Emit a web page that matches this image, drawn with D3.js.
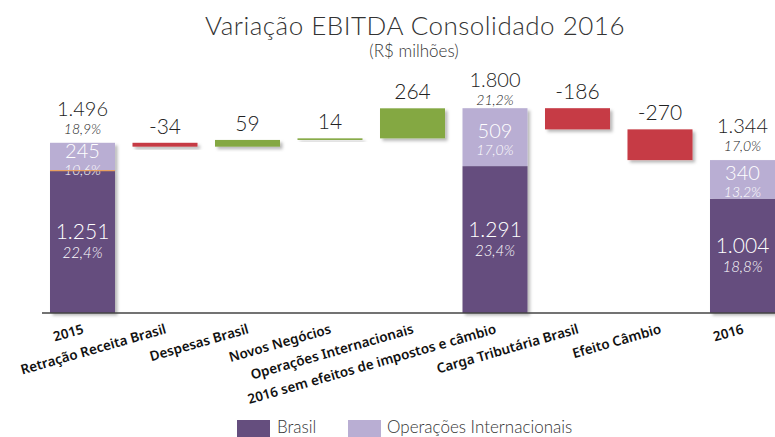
<!DOCTYPE html>
<html>
<head>
<meta charset="utf-8">
<script src="https://cdn.jsdelivr.net/npm/d3@7"></script>
<style>
  html, body { margin: 0; padding: 0; background: #fff; }
  svg { display: block; }
</style>
</head>
<body>
<svg id="chart" width="775" height="437"></svg>
<script>
// ---- Data ----
const categories = ["2015", "Retração Receita Brasil", "Despesas Brasil", "Novos Negócios",
  "Operações Internacionais", "2016 sem efeitos de impostos e câmbio",
  "Carga Tributária Brasil", "Efeito Câmbio", "2016"];
const brasil     = [1251, null, null, null, null, 1291, null, null, 1004];
const intl       = [245,  null, null, null, null, 509,  null, null, 340];
const brasilPct  = [22.4, null, null, null, null, 23.4, null, null, 18.8];
const intlPct    = [10.6, null, null, null, null, 17.0, null, null, 13.2];
const totalPct   = [18.9, null, null, null, null, 21.2, null, null, 17.0];
const deltas     = [null, -34, 59, 14, 264, null, -186, -270, null];
const seriesNames = ["Brasil", "Operações Internacionais"];

// ---- Style ----
const colBrasil = "#654e7e", colIntl = "#b9aed3", colUp = "#84a843", colDown = "#c63a44";
const numFont = "Lato, 'Open Sans', sans-serif";
const catFont = "'Noto Sans', 'Open Sans', sans-serif";

const loc = d3.formatLocale({decimal: ",", thousands: ".", grouping: [3], currency: ["R$", ""], minus: "-"});
const fInt = loc.format(",d");
const fPct = v => loc.format(".1f")(v) + "%";

const svg = d3.select("#chart");
const baseY = 313;
const x = d3.scaleBand().domain(categories).range([41.25, 783.75]).paddingInner(0.212).paddingOuter(0.106);
const y = d3.scaleLinear().domain([0, 1800]).range([baseY, 108.2]);

const defs = svg.append("defs");
const filt = defs.append("filter").attr("id", "sh").attr("x", "-10%").attr("y", "-30%").attr("width", "130%").attr("height", "200%");
filt.append("feDropShadow").attr("dx", 2.5).attr("dy", 2.5).attr("stdDeviation", 1.5)
  .attr("flood-color", "#000").attr("flood-opacity", 0.28);

// Title
svg.append("text").attr("x", 415).attr("y", 35).attr("text-anchor", "middle")
  .style("font-family", numFont).style("font-weight", 300).style("font-size", "26px")
  .style("fill", "#333").style("letter-spacing", "0.5px").text("Variação EBITDA Consolidado 2016");
svg.append("text").attr("x", 414).attr("y", 57).attr("text-anchor", "middle")
  .style("font-family", numFont).style("font-weight", 300).style("font-size", "17px")
  .style("fill", "#333").text("(R$ milhões)");

// Build waterfall
let running = 0;
const items = categories.map((c, i) => {
  if (brasil[i] != null) {
    running = brasil[i] + intl[i];
    return {c, i, type: "total", b: brasil[i], n: intl[i]};
  } else {
    const start = running;
    running = start + deltas[i];
    return {c, i, type: "delta", start, end: running, d: deltas[i]};
  }
});

const g = svg.append("g");
const bw = x.bandwidth();

items.forEach(it => {
  const x0 = x(it.c), cx = x0 + bw / 2;
  if (it.type === "total") {
    const tot = it.b + it.n;
    const yB = y(it.b), yT = y(tot);
    const grp = g.append("g").attr("filter", "url(#sh)");
    grp.append("rect").attr("x", x0).attr("y", yB).attr("width", bw).attr("height", baseY - yB).attr("fill", colBrasil);
    grp.append("rect").attr("x", x0).attr("y", yT).attr("width", bw).attr("height", yB - yT).attr("fill", colIntl);
    // totals
    const totY = Math.max(yT - 27, 87), pctY = Math.max(yT - 9, 105);
    g.append("text").attr("x", cx).attr("y", totY).attr("text-anchor", "middle")
      .style("font-family", numFont).style("font-weight", 300).style("font-size", "20px").style("fill", "#222").text(fInt(tot));
    g.append("text").attr("x", cx).attr("y", pctY).attr("text-anchor", "middle")
      .style("font-family", numFont).style("font-weight", 300).style("font-style", "italic").style("font-size", "14px").style("fill", "#222").text(fPct(totalPct[it.i]));
    // intl labels
    const cI = (yT + yB) / 2;
    g.append("text").attr("x", cx).attr("y", cI + 1).attr("text-anchor", "middle")
      .style("font-family", numFont).style("font-weight", 300).style("font-size", "20px").style("fill", "#fff").text(fInt(it.n));
    g.append("text").attr("x", cx).attr("y", cI + 18).attr("text-anchor", "middle")
      .style("font-family", numFont).style("font-weight", 300).style("font-style", "italic").style("font-size", "14px").style("fill", "#fff").text(fPct(intlPct[it.i]));
    // brasil labels
    const cB = (yB + baseY) / 2;
    g.append("text").attr("x", cx).attr("y", cB - 3).attr("text-anchor", "middle")
      .style("font-family", numFont).style("font-weight", 300).style("font-size", "21px").style("fill", "#fff").text(fInt(it.b));
    g.append("text").attr("x", cx).attr("y", cB + 16).attr("text-anchor", "middle")
      .style("font-family", numFont).style("font-weight", 300).style("font-style", "italic").style("font-size", "15px").style("fill", "#fff").text(fPct(brasilPct[it.i]));
  } else {
    const top = y(Math.max(it.start, it.end)), bot = y(Math.min(it.start, it.end));
    g.append("rect").attr("x", x0).attr("y", top).attr("width", bw).attr("height", Math.max(bot - top, 1.6))
      .attr("fill", it.d < 0 ? colDown : colUp).attr("filter", "url(#sh)");
    g.append("text").attr("x", cx).attr("y", top - 9).attr("text-anchor", "middle")
      .style("font-family", numFont).style("font-weight", 300).style("font-size", "21px").style("fill", "#222").text(fInt(it.d));
  }
});

// orange separator on 2015 bar
g.append("line").attr("x1", x(categories[0])).attr("x2", x(categories[0]) + bw)
  .attr("y1", y(brasil[0])).attr("y2", y(brasil[0])).attr("stroke", "#e8a060").attr("stroke-width", 1.2);

// axis
const axis = svg.append("g").attr("transform", `translate(0,${baseY})`)
  .call(d3.axisBottom(x).tickSize(0).tickSizeOuter(0));
axis.select(".domain").attr("d", "M42,0H775").attr("stroke", "#444").attr("stroke-width", 1.5);
axis.selectAll(".tick text")
  .attr("y", 0).attr("dy", 0)
  .attr("transform", "translate(2,20) rotate(-16)")
  .attr("text-anchor", "end")
  .style("font-family", catFont).style("font-weight", 600).style("font-size", "13.5px").style("fill", "#111");

// legend
const leg = svg.append("g");
[[colBrasil, 237, 277], [colIntl, 348, 387]].forEach((d, k) => {
  leg.append("rect").attr("x", d[1]).attr("y", 420).attr("width", 33).attr("height", 17).attr("fill", d[0]);
  leg.append("text").attr("x", d[2]).attr("y", 433)
    .style("font-family", numFont).style("font-weight", 300).style("font-size", "17px").style("fill", "#333").text(seriesNames[k]);
});
</script>
</body>
</html>
